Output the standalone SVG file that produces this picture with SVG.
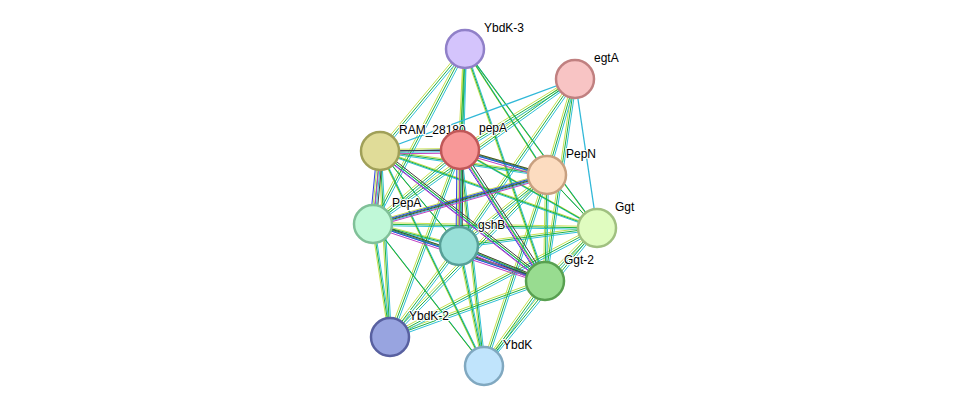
<svg xmlns="http://www.w3.org/2000/svg" xmlns:xlink="http://www.w3.org/1999/xlink" width="975" height="412" viewBox="0 0 975 412">
<style>
.n{stroke-width:2.5}
text{font-family:"Liberation Sans",Arial,sans-serif;font-size:12px;fill:#000;paint-order:stroke;stroke:#fff;stroke-width:2px}
#edges line,#core line{stroke-width:1.3;fill:none}
</style>
<defs>
<g id="E">
<line x1="465" y1="49" x2="380" y2="151"/><line x1="465" y1="49" x2="460" y2="150"/><line x1="465" y1="49" x2="547" y2="175"/><line x1="465" y1="49" x2="459" y2="246"/><line x1="465" y1="49" x2="597" y2="228"/><line x1="465" y1="49" x2="545" y2="281"/><line x1="465" y1="49" x2="373" y2="224"/>
<line x1="575" y1="79" x2="460" y2="150"/><line x1="575" y1="79" x2="547" y2="175"/><line x1="575" y1="79" x2="545" y2="281"/><line x1="575" y1="79" x2="459" y2="246"/><line x1="575" y1="79" x2="373" y2="224"/>
<line x1="380" y1="151" x2="460" y2="150"/><line x1="380" y1="151" x2="547" y2="175"/><line x1="380" y1="151" x2="373" y2="224"/><line x1="380" y1="151" x2="459" y2="246"/><line x1="380" y1="151" x2="597" y2="228"/><line x1="380" y1="151" x2="545" y2="281"/><line x1="380" y1="151" x2="390" y2="337"/><line x1="380" y1="151" x2="484" y2="366"/>
<line x1="460" y1="150" x2="547" y2="175"/><line x1="460" y1="150" x2="373" y2="224"/><line x1="460" y1="150" x2="459" y2="246"/><line x1="460" y1="150" x2="597" y2="228"/><line x1="460" y1="150" x2="545" y2="281"/><line x1="460" y1="150" x2="390" y2="337"/><line x1="460" y1="150" x2="484" y2="366"/>
<line x1="547" y1="175" x2="373" y2="224"/><line x1="547" y1="175" x2="459" y2="246"/><line x1="547" y1="175" x2="597" y2="228"/><line x1="547" y1="175" x2="545" y2="281"/><line x1="547" y1="175" x2="390" y2="337"/><line x1="547" y1="175" x2="484" y2="366"/>
<line x1="373" y1="224" x2="459" y2="246"/><line x1="373" y1="224" x2="597" y2="228"/><line x1="373" y1="224" x2="545" y2="281"/><line x1="373" y1="224" x2="390" y2="337"/><line x1="373" y1="224" x2="484" y2="366"/>
<line x1="459" y1="246" x2="597" y2="228"/><line x1="459" y1="246" x2="545" y2="281"/><line x1="459" y1="246" x2="390" y2="337"/><line x1="459" y1="246" x2="484" y2="366"/>
<line x1="597" y1="228" x2="545" y2="281"/><line x1="597" y1="228" x2="390" y2="337"/><line x1="597" y1="228" x2="484" y2="366"/>
<line x1="545" y1="281" x2="390" y2="337"/><line x1="545" y1="281" x2="484" y2="366"/>
</g>
<g id="C">
<line x1="380" y1="151" x2="460" y2="150"/><line x1="380" y1="151" x2="373" y2="224"/><line x1="460" y1="150" x2="547" y2="175"/><line x1="373" y1="224" x2="545" y2="281"/><line x1="459" y1="246" x2="545" y2="281"/><line x1="460" y1="150" x2="545" y2="281"/><line x1="380" y1="151" x2="545" y2="281"/><line x1="373" y1="224" x2="547" y2="175"/><line x1="460" y1="150" x2="459" y2="246"/>
</g>
</defs>
<g id="connectors">
<g id="edges">
<use xlink:href="#E" stroke="#c8e050" transform="translate(-1.5,-1.5)"/>
<use xlink:href="#E" stroke="#30c0d8" transform="translate(1.5,1.5)"/>
<use xlink:href="#E" stroke="#20b040"/>
</g>
<g id="core">
<use xlink:href="#C" stroke="#3040e0" transform="translate(-3,0)"/>
<use xlink:href="#C" stroke="#404040" transform="translate(3,0)"/>
<use xlink:href="#C" stroke="#c040c0" transform="translate(0,3)"/>
</g>
<line x1="575" y1="79" x2="380" y2="151" stroke="#30b8d8" stroke-width="1.3"/>
<line x1="575" y1="79" x2="597" y2="228" stroke="#30b8d8" stroke-width="1.3"/>
</g>
<g id="YbdK-3"><circle class="n" cx="465" cy="49" r="19" fill="#d4c4fc" stroke="#9080c8"/><text x="484" y="32">YbdK-3</text></g>
<g id="egtA"><circle class="n" cx="575" cy="79" r="19" fill="#f8c4c4" stroke="#c08080"/><text x="594" y="62">egtA</text></g>
<g id="RAM_28180"><circle class="n" cx="380" cy="151" r="19" fill="#e0dc98" stroke="#a0a058"/><text x="399" y="134">RAM_28180</text></g>
<g id="pepA"><circle class="n" cx="460" cy="150" r="19" fill="#f89898" stroke="#c05858"/><text x="479" y="132">pepA</text></g>
<g id="PepN"><circle class="n" cx="547" cy="175" r="19" fill="#fcdcc0" stroke="#c8a080"/><text x="566" y="158">PepN</text></g>
<g id="PepA"><circle class="n" cx="373" cy="224" r="19" fill="#c0f8d8" stroke="#80c098"/><text x="392" y="207">PepA</text></g>
<g id="gshB"><circle class="n" cx="459" cy="246" r="19" fill="#98e0d8" stroke="#58a098"/><text x="478" y="229">gshB</text></g>
<g id="Ggt"><circle class="n" cx="597" cy="228" r="19" fill="#e0fcc0" stroke="#a0c080"/><text x="615" y="211">Ggt</text></g>
<g id="Ggt-2"><circle class="n" cx="545" cy="281" r="19" fill="#98dc90" stroke="#58a050"/><text x="564" y="264">Ggt-2</text></g>
<g id="YbdK-2"><circle class="n" cx="390" cy="337" r="19" fill="#98a4e0" stroke="#5860a0"/><text x="409" y="320">YbdK-2</text></g>
<g id="YbdK"><circle class="n" cx="484" cy="366" r="19" fill="#c0e4fc" stroke="#80a8c0"/><text x="503" y="349">YbdK</text></g>
</svg>
